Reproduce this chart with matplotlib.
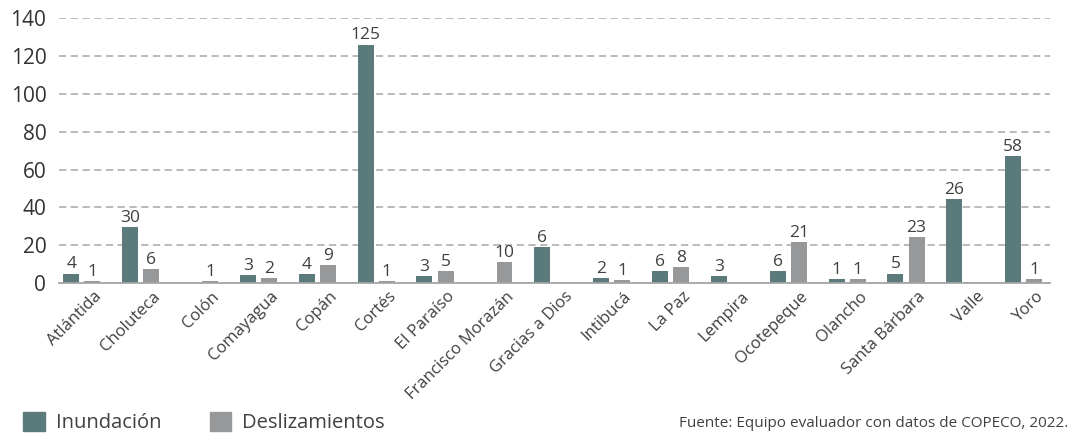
import matplotlib
matplotlib.use("Agg")
import matplotlib.pyplot as plt
from matplotlib.patches import Patch
import numpy as np

plt.rcParams['font.family'] = ['Open Sans', 'DejaVu Sans']

departamentos = ['Atlántida', 'Choluteca', 'Colón', 'Comayagua', 'Copán', 'Cortés',
                 'El Paraíso', 'Francisco Morazán', 'Gracias a Dios', 'Intibucá',
                 'La Paz', 'Lempira', 'Ocotepeque', 'Olancho', 'Santa Bárbara',
                 'Valle', 'Yoro']
# bar heights as drawn in the reference
inundacion = [5, 29.5, 0, 4, 4.6, 126, 3.5, 0, 19, 2.5, 6.2, 3.5, 6.2, 1.9, 5, 44.3, 67]
deslizamientos = [0.9, 7.2, 0.9, 2.5, 9.4, 0.9, 6.2, 10.9, 0, 1.4, 8.3, 0, 21.5, 1.9, 24.2, 0, 1.9]
# value labels as printed in the reference
inundacion_lbl = ['4', '30', '', '3', '4', '125', '3', '', '6', '2', '6', '3', '6', '1', '5', '26', '58']
deslizamientos_lbl = ['1', '6', '1', '2', '9', '1', '5', '10', '', '1', '8', '', '21', '1', '23', '', '1']

c_inu = '#5a7a7c'
c_des = '#97989a'
c_txt = '#404040'

fig = plt.figure(figsize=(10.7, 4.36), dpi=100)
ax = fig.add_axes([0.055, 0.351, 0.926, 0.607])

x = np.arange(len(departamentos))
w = 0.27
off = 0.18
b1 = ax.bar(x - off, inundacion, w, color=c_inu, zorder=3)
b2 = ax.bar(x + off, deslizamientos, w, color=c_des, zorder=3)
ax.bar_label(b1, labels=inundacion_lbl, padding=1, fontsize=12.5, color=c_txt)
ax.bar_label(b2, labels=deslizamientos_lbl, padding=1, fontsize=12.5, color=c_txt)

ax.set_xlim(-0.39, 16.44)
ax.set_ylim(0, 140)
ax.set_yticks(range(0, 141, 20))
ax.yaxis.grid(True, linestyle=(0, (4, 2.5)), color='#b4b4b4', linewidth=1.3, zorder=0)
for s in ['top', 'right', 'left']:
    ax.spines[s].set_visible(False)
ax.spines['bottom'].set_color('#a6a6a6')
ax.spines['bottom'].set_linewidth(1.3)
ax.spines['bottom'].set_zorder(4)
ax.tick_params(axis='y', length=0, labelsize=15, labelcolor='#333333', pad=9)
ax.tick_params(axis='x', length=0, pad=4)
ax.set_xticks(x + 0.2)
ax.set_xticklabels(departamentos, rotation=45, ha='right', rotation_mode='anchor',
                   fontsize=12, color=c_txt)

handles = [Patch(color=c_inu, label='Inundación'), Patch(color=c_des, label='Deslizamientos')]
fig.legend(handles=handles, loc='lower left', bbox_to_anchor=(0.005, -0.035), ncol=2,
           frameon=False, fontsize=14.5, handlelength=1.05, handleheight=1.05,
           handletextpad=0.55, columnspacing=2.4, labelcolor=c_txt)

fig.text(0.998, 0.012, 'Fuente: Equipo evaluador con datos de COPECO, 2022.',
         ha='right', va='bottom', fontsize=11, color=c_txt)

fig.savefig('out.png', dpi=100)
